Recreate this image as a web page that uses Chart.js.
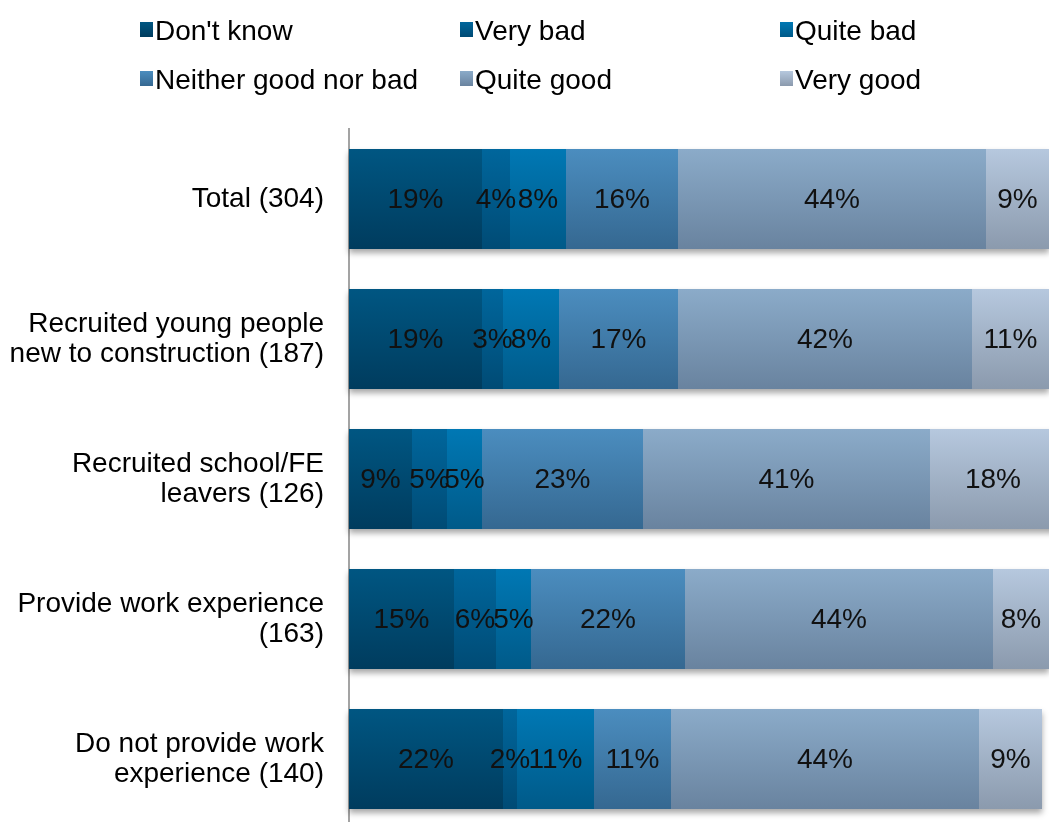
<!DOCTYPE html>
<html>
<head>
<meta charset="utf-8">
<script src="https://cdn.jsdelivr.net/npm/chart.js@4/dist/chart.umd.min.js"></script>
<style>
  html, body { margin: 0; padding: 0; background: #fff; overflow: hidden; }
  #wrap { position: relative; width: 1049px; height: 822px; overflow: hidden; }
  #chart { position: absolute; left: 0; top: 0; }
  .lg { position: absolute; font: 28px "Liberation Sans", Arial, sans-serif; color: #000; white-space: nowrap; line-height: 32px; }
  .lg i { position: absolute; left: -15px; top: 7px; width: 13px; height: 15px; }
</style>
</head>
<body>
<div id="wrap">
  <canvas id="chart" width="1060" height="830"></canvas>
</div>
<script>
// Survey groups (y axis)
const categories = [
  ['Total (304)'],
  ['Recruited young people', 'new to construction (187)'],
  ['Recruited school/FE', 'leavers (126)'],
  ['Provide work experience', '(163)'],
  ['Do not provide work', 'experience (140)']
];

// Response shares in percent, one array per answer
const dontKnow   = [19, 19, 9, 15, 22];
const veryBad    = [4, 3, 5, 6, 2];
const quiteBad   = [8, 8, 5, 5, 11];
const neither    = [16, 17, 23, 22, 11];
const quiteGood  = [44, 42, 41, 44, 44];
const veryGood   = [9, 11, 18, 8, 9];

const seriesNames = ["Don't know", 'Very bad', 'Quite bad', 'Neither good nor bad', 'Quite good', 'Very good'];
const seriesData = [dontKnow, veryBad, quiteBad, neither, quiteGood, veryGood];
// top / bottom colours of each series' vertical gradient
const seriesTop    = ['#005682', '#00669c', '#0078b4', '#4b8dbf', '#8babc9', '#b6c8de'];
const seriesBottom = ['#003c5e', '#004b75', '#005a89', '#356891', '#69839f', '#8b9aad'];

const FONT = '"Liberation Sans", Arial, sans-serif';

// HTML legend laid out in three columns
const legendX = [155, 475, 795];
const legendY = [15, 64];
const wrap = document.getElementById('wrap');
seriesNames.forEach((name, i) => {
  const d = document.createElement('div');
  d.className = 'lg';
  d.style.left = legendX[i % 3] + 'px';
  d.style.top = legendY[Math.floor(i / 3)] + 'px';
  const sq = document.createElement('i');
  sq.style.background = `linear-gradient(${seriesTop[i]}, ${seriesBottom[i]})`;
  d.appendChild(sq);
  d.appendChild(document.createTextNode(name));
  wrap.appendChild(d);
});

function barGradient(i) {
  return (context) => {
    const chart = context.chart;
    const yScale = chart.scales.y;
    if (!chart.chartArea || !yScale || context.dataIndex === undefined) return seriesTop[i];
    const yc = yScale.getPixelForValue(context.dataIndex);
    const step = Math.abs(yScale.getPixelForValue(1) - yScale.getPixelForValue(0));
    const h = step * 0.714 / 2;
    const g = chart.ctx.createLinearGradient(0, yc - h, 0, yc + h);
    g.addColorStop(0, seriesTop[i]);
    g.addColorStop(1, seriesBottom[i]);
    return g;
  };
}

// soft shadow under each stacked row
const rowShadow = {
  id: 'rowShadow',
  beforeDatasetsDraw(chart) {
    const ctx = chart.ctx;
    const first = chart.getDatasetMeta(0).data;
    const last = chart.getDatasetMeta(chart.data.datasets.length - 1).data;
    ctx.save();
    ctx.shadowColor = 'rgba(0,0,0,0.35)';
    ctx.shadowBlur = 6;
    ctx.shadowOffsetY = 4;
    ctx.fillStyle = '#888';
    first.forEach((bar, j) => {
      const end = last[j];
      const top = bar.y - bar.height / 2;
      ctx.fillRect(bar.base, top, end.x - bar.base, bar.height);
    });
    ctx.restore();
  }
};

// percentage labels centred on each segment
const segmentLabels = {
  id: 'segmentLabels',
  afterDatasetsDraw(chart) {
    const ctx = chart.ctx;
    ctx.save();
    ctx.font = '28px ' + FONT;
    ctx.fillStyle = '#111';
    ctx.textAlign = 'center';
    ctx.textBaseline = 'middle';
    chart.data.datasets.forEach((ds, i) => {
      chart.getDatasetMeta(i).data.forEach((bar, j) => {
        const cx = (bar.x + bar.base) / 2;
        ctx.fillText(ds.data[j] + '%', cx, bar.y + 1);
      });
    });
    ctx.restore();
  }
};

new Chart(document.getElementById('chart'), {
  type: 'bar',
  data: {
    labels: categories,
    datasets: seriesNames.map((name, i) => ({
      label: name,
      data: seriesData[i],
      backgroundColor: barGradient(i),
      borderWidth: 0,
      barPercentage: 1,
      categoryPercentage: 0.714,
      clip: false
    }))
  },
  options: {
    indexAxis: 'y',
    responsive: false,
    animation: false,
    devicePixelRatio: 1,
    layout: { padding: { top: 129, right: 4, bottom: 1, left: 0 } },
    plugins: {
      legend: { display: false },
      tooltip: { enabled: false }
    },
    scales: {
      x: {
        stacked: true,
        display: false,
        min: 0,
        max: 101
      },
      y: {
        stacked: true,
        grid: { display: false, drawTicks: false },
        border: { display: true, color: '#a3a3a3', width: 2 },
        ticks: {
          color: '#000',
          padding: 25,
          font: { family: FONT, size: 28, lineHeight: 1.07 }
        },
        afterFit(scale) {
          scale.width = 349;
          scale.paddingTop = 0;
          scale.paddingBottom = 0;
        }
      }
    }
  },
  plugins: [rowShadow, segmentLabels]
});
</script>
</body>
</html>
